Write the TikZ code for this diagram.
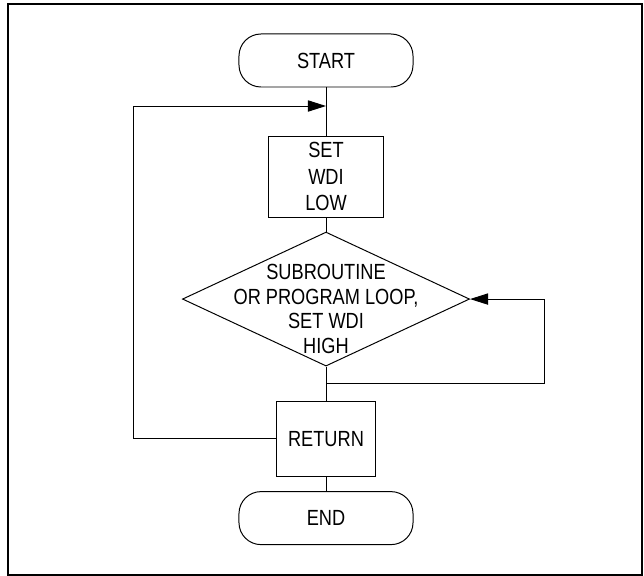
\documentclass[tikz,border=0pt]{standalone}
\usepackage{fontspec}
\setmainfont{Liberation Sans}[FakeStretch=0.83]
\usepackage{tikz}
\usetikzlibrary{arrows.meta,shapes.geometric}

\begin{document}
\begin{tikzpicture}[x=0.025cm,y=-0.025cm,line width=0.7pt,
  font=\fontsize{15.6pt}{19pt}\selectfont,
  term/.style={rectangle,draw,rounded corners=0.55cm,minimum width=4.35cm,minimum height=1.325cm},
  proc/.style={rectangle,draw,align=center,inner sep=0pt},
  decision/.style={diamond,draw,minimum width=7.175cm,minimum height=3.35cm,inner sep=0pt},
  tip/.style={-{Triangle[length=0.45cm,width=0.28cm]}}]
\useasboundingbox (0,0) rectangle (644,576);
\draw[line width=1.4pt] (8,4) rectangle (642,575);
\node[term] (start) at (326,60.5) {START};
\coordinate[below of = start,node distance=1.1375cm] (join);
\node[proc,minimum width=2.875cm,minimum height=2.025cm] (set) [below of = start,node distance=2.9cm] {SET\\WDI\\LOW};
\node[decision] (loop) [below of = set,node distance=3.0625cm] {};
\node[align=center,font=\fontsize{15.6pt}{17.5pt}\selectfont] (looptext) [below of = loop,node distance=0.25cm] {SUBROUTINE\\OR PROGRAM LOOP,\\SET WDI\\HIGH};
\coordinate[below of = loop,node distance=2.1cm] (back);
\node[proc,minimum width=2.475cm,minimum height=1.875cm] (ret) [below of = loop,node distance=3.4875cm] {RETURN};
\node[term] (end) [below of = ret,node distance=1.9875cm] {END};
\path (start) edge (set);
\path (set) edge (loop);
\path (loop) edge (ret);
\path (ret) edge (end);
\draw[tip] (ret.west) -- ++(-143,0) |- (join);
\draw[tip] (back) -- ++(218,0) |- (loop.east);
\end{tikzpicture}
\end{document}
